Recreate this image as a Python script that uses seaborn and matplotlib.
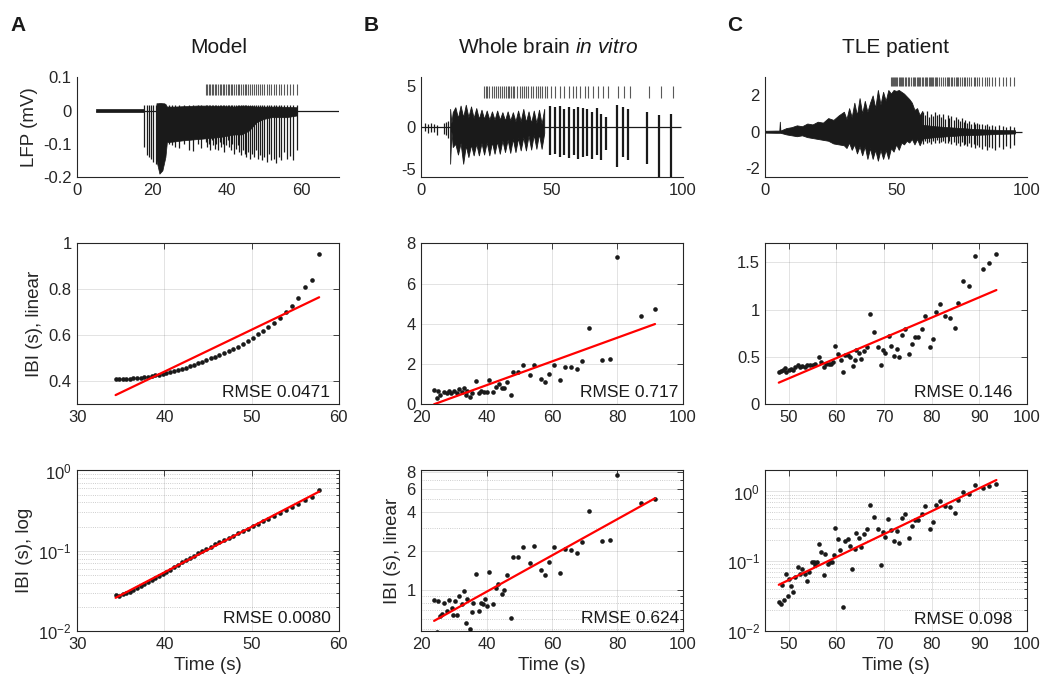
import matplotlib
matplotlib.use("Agg")
import matplotlib.pyplot as plt
import matplotlib.ticker as mticker
import seaborn as sns
import numpy as np

# ---------------- A: model ----------------
a_burst_t = [34.40, 34.81, 35.22, 35.63, 36.04, 36.45, 36.86, 37.27, 37.69, 38.11,
             38.53, 38.95, 39.38, 39.81, 40.24, 40.68, 41.12, 41.56, 42.01, 42.46,
             42.92, 43.38, 43.85, 44.33, 44.82, 45.31, 45.81, 46.32, 46.84, 47.36,
             47.89, 48.43, 48.98, 49.54, 50.12, 50.71, 51.32, 51.94, 52.58, 53.24,
             53.92, 54.62, 55.35, 56.11, 56.92, 57.76]
a_ibi_lin = [0.410, 0.410, 0.410, 0.411, 0.412, 0.413, 0.414, 0.416, 0.418, 0.420,
             0.423, 0.426, 0.429, 0.432, 0.436, 0.440, 0.444, 0.449, 0.454, 0.459,
             0.465, 0.471, 0.478, 0.485, 0.493, 0.501, 0.507, 0.515, 0.523, 0.531,
             0.540, 0.551, 0.563, 0.576, 0.590, 0.605, 0.620, 0.637, 0.655, 0.677,
             0.700, 0.727, 0.763, 0.808, 0.840, 0.952]
a_ibi_log = [0.0282, 0.0275, 0.0285, 0.0296, 0.0310, 0.0326, 0.0343, 0.0361, 0.0382, 0.0405,
             0.0429, 0.0454, 0.0481, 0.0513, 0.0547, 0.0583, 0.0625, 0.0668, 0.0716, 0.0766,
             0.0817, 0.0871, 0.0929, 0.0991, 0.1057, 0.1125, 0.1197, 0.1276, 0.1358, 0.1449,
             0.1545, 0.1652, 0.1766, 0.1888, 0.2023, 0.2168, 0.2328, 0.2506, 0.2704, 0.2931,
             0.3184, 0.3475, 0.3819, 0.4236, 0.4732, 0.5728]
a_last_burst = 58.71
a_rmse = ["RMSE 0.0471", "RMSE 0.0080"]

# LFP trace of the model: quiet band, single discharges and a dense envelope
a_trace_start = 4.9
a_quiet_t = [4.9, 17.8]
a_quiet_hi = [0.005, 0.005]
a_quiet_lo = [-0.005, -0.005]
a_early_t = [18.0, 18.6, 19.2, 19.8, 20.4, 21.0, 24.6, 25.4, 26.1, 27.2, 28.5, 30.0, 31.1, 32.2, 33.2]
a_early_lo = [-0.11, -0.135, -0.14, -0.145, -0.155, -0.16, -0.10, -0.105, -0.11, -0.112,
              -0.10, -0.118, -0.122, -0.10, -0.112]
a_spike_top = 0.018
a_spk_lo = [-0.095, -0.11, -0.10, -0.12, -0.09, -0.105, -0.115, -0.10, -0.12, -0.095,
            -0.11, -0.10, -0.125, -0.105, -0.09, -0.11, -0.12, -0.10, -0.13, -0.115,
            -0.105, -0.125, -0.135, -0.12, -0.13, -0.14, -0.125, -0.145, -0.13, -0.14,
            -0.12, -0.145, -0.135, -0.15, -0.14, -0.155, -0.13, -0.15, -0.145, -0.157,
            -0.14, -0.15, -0.125, -0.145, -0.138, -0.148, -0.12]
a_env_t = [21.2, 21.6, 22.0, 22.4, 22.8, 23.2, 23.6, 24.0, 26.0, 28.0, 30.0, 32.0, 34.0,
           36.0, 38.0, 40.0, 42.0, 44.0, 46.0, 48.0, 50.0, 52.0, 54.0, 56.0, 58.7]
a_env_hi = [0.022, 0.022, 0.023, 0.023, 0.022, 0.022, 0.02, 0.012, 0.012, 0.013, 0.014, 0.015,
            0.015, 0.014, 0.014, 0.013, 0.012, 0.015, 0.014, 0.012, 0.012, 0.012, 0.012, 0.011, 0.01]
a_env_lo = [-0.15, -0.17, -0.19, -0.185, -0.18, -0.16, -0.14, -0.095, -0.093, -0.09, -0.088, -0.086,
            -0.084, -0.082, -0.08, -0.076, -0.072, -0.072, -0.06, -0.035, -0.025, -0.02, -0.02,
            -0.02, -0.015]

# ---------------- B: whole brain in vitro ----------------
b_burst_t = [23.9, 24.8, 25.1, 25.8, 26.9, 27.7, 28.5, 29.2, 30.0, 30.8,
             31.5, 32.3, 33.0, 33.6, 34.1, 34.9, 35.6, 36.6, 37.7, 38.4,
             39.3, 40.0, 40.8, 42.0, 42.7, 43.8, 44.6, 45.3, 46.3, 47.4,
             48.0, 49.5, 51.1, 53.2, 54.6, 56.6, 57.9, 59.1, 60.6, 62.5,
             63.9, 65.7, 67.6, 69.3, 71.4, 75.4, 77.6, 79.8, 87.2, 91.5]
b_ibi_lin = [0.71, 0.33, 0.66, 0.48, 0.63, 0.55, 0.66, 0.55, 0.66, 0.58,
             0.75, 0.63, 0.83, 0.46, 0.66, 0.38, 0.58, 1.16, 0.55, 0.66,
             0.60, 0.63, 1.21, 0.63, 0.88, 0.99, 0.80, 0.83, 1.13, 0.46,
             1.61, 1.61, 1.97, 1.46, 1.97, 1.27, 1.13, 1.49, 1.97, 1.19,
             1.87, 1.87, 1.77, 2.14, 3.81, 2.20, 2.25, 7.30, 4.39, 4.73]
b_t_log = [23.9, 25.1, 24.8, 25.6, 26.2, 26.9, 27.7, 28.5, 29.3, 29.7,
           30.3, 31.0, 31.6, 32.3, 33.0, 33.8, 34.1, 34.9, 35.4, 35.9,
           36.6, 37.7, 38.4, 39.0, 39.5, 40.2, 40.8, 42.0, 42.7, 43.6,
           44.6, 45.3, 46.3, 47.4, 48.0, 49.5, 51.1, 53.2, 54.6, 56.6,
           57.9, 59.1, 60.6, 62.5, 63.9, 65.7, 67.6, 69.3, 71.4, 75.4,
           77.6, 79.8, 87.2, 91.5]
b_ibi_log = [0.84, 0.82, 0.48, 0.63, 0.66, 0.80, 0.69, 0.84, 0.73, 0.64,
             0.82, 0.64, 0.905, 0.78, 0.99, 0.56, 0.85, 0.50, 0.68, 0.79,
             1.32, 0.69, 0.79, 0.78, 0.86, 0.75, 1.37, 0.78, 1.03, 1.12,
             0.94, 1.01, 1.30, 0.61, 1.78, 1.80, 2.15, 1.62, 2.17, 1.42,
             1.30, 1.65, 2.15, 1.35, 2.06, 2.05, 1.94, 2.34, 4.05, 2.39,
             2.44, 7.59, 4.66, 5.03]
b_last_burst = 96.2
b_rmse = ["RMSE 0.717", "RMSE 0.624"]

b_trace_end = 99.5
b_pre_t = [1.5, 2.5, 3.5, 5.0, 6.0, 8.5, 9.3, 10.0]
b_pre_hi = [0.5, 0.4, 0.5, 0.4, 0.3, 0.5, 0.6, 0.8]
b_pre_lo = [-0.5, -0.7, -0.6, -0.6, -0.9, -0.8, -1.0, -1.3]
b_env_t = [11, 11.5, 12, 13, 14, 15, 16, 17, 18, 19, 20, 21, 22, 23, 24, 25, 26, 27, 28, 29,
           30, 31, 32, 33, 34, 35, 36, 37, 38, 39, 40, 41, 42, 43, 44, 45, 46, 47]
b_env_hi = [2.2, 0.5, 1.8, 2.4, 1.1, 2.6, 1.2, 2.7, 1.2, 2.5, 1.1, 2.3, 1.0, 2.1, 1.0, 2.0, 0.9, 1.9,
            0.9, 2.0, 0.9, 1.8, 0.8, 1.9, 0.8, 1.8, 0.7, 2.0, 0.7, 2.2, 0.6, 1.9, 0.5, 2.0, 0.5, 2.1,
            0.4, 2.2]
b_env_lo = [-4.4, -0.5, -2.4, -2.0, -3.3, -1.9, -4.4, -2.2, -3.6, -2.1, -3.4, -2.0, -3.4, -1.9, -3.3,
            -1.8, -3.4, -1.8, -3.2, -1.7, -3.2, -1.6, -3.0, -1.5, -3.1, -1.4, -3.0, -1.3, -2.8, -1.2,
            -2.8, -1.0, -2.7, -0.9, -2.6, -0.8, -2.6, -0.7]
b_spk_t = [49.2, 51.1, 53.0, 54.6, 56.4, 58.3, 60.0, 61.9, 63.5, 65.3, 67.0, 68.9, 70.8, 75.0, 77.1,
           79.1, 86.4, 90.9, 95.6]
b_spk_hi = [2.5, 2.4, 2.5, 2.2, 2.4, 2.2, 2.4, 2.3, 2.2, 1.8, 2.3, 1.6, 1.2, 2.7, 2.4, 2.2, 1.8, 1.5, 1.6]
b_spk_lo = [-3.4, -3.2, -3.6, -3.4, -3.7, -3.4, -3.8, -3.6, -3.5, -3.8, -3.4, -4.0, -2.8, -4.8, -3.6,
            -4.0, -4.4, -6.0, -6.0]

# ---------------- C: TLE patient ----------------
c_burst_t = [47.9, 48.4, 48.8, 49.3, 49.5, 50.0, 50.5, 50.9, 51.4, 51.9,
             52.3, 52.8, 53.3, 53.8, 54.5, 55.0, 55.6, 56.3, 56.8, 57.3,
             57.8, 58.4, 58.9, 59.3, 59.8, 60.3, 61.0, 61.4, 61.9, 62.4,
             62.9, 63.4, 63.8, 64.2, 64.8, 65.2, 65.7, 66.4, 67.0, 67.9,
             68.7, 69.3, 69.7, 70.3, 71.0, 71.5, 72.1, 72.7, 73.2, 73.8,
             74.5, 75.2, 75.8, 76.4, 77.2, 77.9, 78.7, 79.6, 80.2, 81.0,
             81.8, 82.9, 83.9, 84.8, 85.5, 86.6, 87.9, 89.2, 90.8, 92.1, 93.6]
c_ibi_lin = [0.345, 0.35, 0.36, 0.38, 0.345, 0.36, 0.37, 0.36, 0.39, 0.41,
             0.39, 0.40, 0.39, 0.41, 0.42, 0.42, 0.43, 0.50, 0.45, 0.39,
             0.43, 0.43, 0.43, 0.45, 0.62, 0.53, 0.47, 0.345, 0.52, 0.52,
             0.50, 0.40, 0.47, 0.57, 0.54, 0.48, 0.56, 0.61, 0.95, 0.76,
             0.61, 0.41, 0.57, 0.54, 0.72, 0.62, 0.51, 0.58, 0.50, 0.73,
             0.80, 0.53, 0.64, 0.71, 0.71, 0.80, 0.93, 0.61, 0.69, 0.97,
             1.06, 0.93, 0.91, 0.81, 1.07, 1.30, 1.25, 1.57, 1.43, 1.49, 1.59]
c_t_log = [47.9, 48.3, 48.6, 49.0, 49.4, 49.8, 50.1, 50.5, 50.8, 51.2,
           51.9, 52.3, 52.8, 53.3, 53.8, 54.2, 54.8, 55.2, 55.6, 55.9,
           56.4, 56.8, 57.3, 57.7, 58.2, 58.7, 59.1, 59.4, 59.8, 60.3,
           60.8, 61.4, 61.8, 62.4, 62.8, 63.3, 63.8, 64.2, 64.8, 65.2,
           65.7, 66.4, 67.0, 67.9, 68.7, 69.3, 69.7, 70.3, 70.8, 71.5,
           72.1, 72.7, 73.2, 73.8, 74.5, 75.2, 75.8, 76.4, 77.2, 77.9,
           78.7, 79.6, 80.2, 81.0, 81.8, 82.9, 83.9, 84.8, 85.5, 86.6,
           87.9, 89.2, 90.8, 92.1, 93.6]
c_ibi_log = [0.026, 0.0245, 0.046, 0.028, 0.066, 0.032, 0.055, 0.044, 0.036, 0.060,
             0.084, 0.066, 0.077, 0.066, 0.052, 0.069, 0.099, 0.099, 0.087, 0.099,
             0.175, 0.135, 0.063, 0.126, 0.091, 0.099, 0.097, 0.123, 0.30, 0.21,
             0.146, 0.0223, 0.198, 0.21, 0.166, 0.077, 0.15, 0.258, 0.218, 0.162,
             0.244, 0.288, 0.63, 0.437, 0.288, 0.087, 0.26, 0.22, 0.40, 0.28,
             0.198, 0.27, 0.185, 0.41, 0.48, 0.218, 0.315, 0.39, 0.39, 0.48,
             0.61, 0.288, 0.37, 0.64, 0.74, 0.61, 0.60, 0.49, 0.76, 0.97,
             0.93, 1.25, 1.12, 1.18, 1.29]
c_last_burst = 95.2
c_rmse = ["RMSE 0.146", "RMSE 0.098"]

c_trace_end = 98.0
c_env_t = [0, 4, 5.3, 5.5, 5.7, 8, 10, 12, 14, 16, 18, 20, 22, 24, 26, 28, 30, 31, 32, 33,
           34, 35, 36, 37, 38, 39, 40, 41, 42, 43, 44, 45, 46, 47, 48, 49, 50, 51, 52, 53,
           54, 55, 56, 57, 58, 59, 60]
c_env_hi = [0.05, 0.06, 0.06, 0.55, 0.06, 0.2, 0.25, 0.35, 0.3, 0.45, 0.4, 0.55, 0.5, 0.75, 0.65,
            0.9, 1.1, 0.7, 1.3, 0.8, 1.6, 0.9, 1.85, 1.0, 1.7, 1.1, 1.6, 2.0, 1.3, 2.3, 1.5, 2.2,
            1.7, 2.3, 2.1, 2.3, 2.25, 2.3, 2.2, 2.1, 1.95, 1.8, 1.6, 1.2, 1.3, 0.9, 1.15]
c_env_lo = [-0.05, -0.06, -0.06, -0.06, -0.06, -0.15, -0.2, -0.25, -0.2, -0.3, -0.35, -0.4, -0.45,
            -0.5, -0.65, -0.7, -0.75, -0.9, -0.6, -1.0, -0.7, -1.2, -0.8, -1.3, -0.8, -1.5, -0.9,
            -1.5, -1.0, -1.6, -1.0, -1.5, -1.0, -1.5, -0.9, -1.1, -0.7, -1.0, -0.6, -0.7, -0.5,
            -0.6, -0.4, -0.7, -0.4, -0.75, -0.4]
c_core_t = [59, 65, 70, 75, 80, 85, 90, 95.5]
c_core_hi = [0.4, 0.3, 0.25, 0.2, 0.15, 0.12, 0.1, 0.08]
c_core_lo = [-0.4, -0.3, -0.25, -0.2, -0.18, -0.15, -0.12, -0.1]
c_spk_t = [60.3, 61.0, 61.9, 62.4, 63.4, 64.2, 64.8, 65.7, 66.4, 67.0,
           67.9, 68.7, 69.7, 70.3, 71.0, 72.1, 72.7, 73.8, 74.5, 75.2,
           75.8, 76.4, 77.2, 77.9, 78.7, 79.6, 80.2, 81.0, 81.8, 82.9,
           83.9, 84.8, 85.5, 86.6, 87.9, 89.2, 90.8, 92.1, 93.6, 95.2]
c_spk_hi = [1.1, 0.9, 1.15, 0.8, 1.0, 0.85, 1.1, 0.9, 0.95, 0.8,
            1.0, 0.7, 0.9, 0.75, 0.85, 0.65, 0.8, 0.7, 0.6, 0.75,
            0.55, 0.65, 0.5, 0.6, 0.45, 0.55, 0.45, 0.5, 0.4, 0.45,
            0.35, 0.45, 0.3, 0.35, 0.3, 0.35, 0.3, 0.25, 0.3, 0.25]
c_spk_lo = [-0.7, -0.5, -0.65, -0.55, -0.7, -0.5, -0.6, -0.45, -0.65, -0.55,
            -0.5, -0.65, -0.6, -0.5, -0.7, -0.55, -0.75, -0.6, -0.8, -0.55,
            -0.75, -0.7, -0.8, -0.6, -0.85, -0.7, -0.9, -0.75, -0.85, -0.95,
            -0.8, -1.0, -0.85, -0.9, -1.0, -0.85, -0.95, -0.8, -0.9, -0.75]

titles = ["Model", r"Whole brain $\mathit{in\ vitro}$", "TLE patient"]
panel_letters = ["A", "B", "C"]

# ---------------- style ----------------
sns.set_theme(style="white")
plt.rcParams['font.family'] = ['Liberation Sans', 'DejaVu Sans']
plt.rcParams['mathtext.fontset'] = 'custom'
plt.rcParams['mathtext.rm'] = 'Liberation Sans'
plt.rcParams['mathtext.it'] = 'Liberation Sans:italic'
plt.rcParams['mathtext.bf'] = 'Liberation Sans:bold'
plt.rcParams['axes.unicode_minus'] = False

AX_COL = '0.15'
TICK_FS = 12
LABEL_FS = 13.5
plain = mticker.FuncFormatter(lambda v, p: '{:g}'.format(v))

fig = plt.figure(figsize=(10.44, 6.8), dpi=100)
col_x = [0.0740, 0.4036, 0.7332]
col_w = 0.2504
row_y = [0.7397, 0.4054, 0.0721]
row_h = [0.1466, 0.2368, 0.2360]
axs = [[fig.add_axes([col_x[c], row_y[r], col_w, row_h[r]]) for c in range(3)] for r in range(3)]


def style_axes(ax, box=True):
    ax.spines['top'].set_visible(box)
    ax.spines['right'].set_visible(box)
    for sp in ax.spines.values():
        sp.set_color(AX_COL)
        sp.set_linewidth(0.8)
    ax.tick_params(which='both', direction='in', colors=AX_COL, labelsize=TICK_FS,
                   top=box, right=box, length=4, width=0.6, pad=4)
    ax.tick_params(which='minor', length=2)


def add_grid(ax, minor=False):
    ax.grid(True, which='major', color='0.15', alpha=0.15, lw=0.6, ls='-')
    if minor:
        ax.grid(True, which='minor', axis='y', color='0.15', alpha=0.3, lw=0.6, ls=':')
    ax.set_axisbelow(True)


def ibi_panel(ax, t, ibi, rmse, logy, rmse_pos):
    sns.scatterplot(x=t, y=ibi, ax=ax, color='k', s=11, linewidth=0, zorder=3)
    x = np.array(t)
    xs = np.array([x.min(), x.max()])
    if logy:
        k, b = np.polyfit(x, np.log10(ibi), 1)
        ax.plot(xs, 10 ** (k * xs + b), color='red', lw=1.6, zorder=4)
        ax.set_yscale('log')
    else:
        k, b = np.polyfit(x, ibi, 1)
        ax.plot(xs, k * xs + b, color='red', lw=1.6, zorder=4)
    ax.text(rmse_pos[0], rmse_pos[1], rmse, transform=ax.transAxes, ha='right', va='baseline',
            fontsize=12.5, color='k', zorder=5)


def raster(ax, times, band):
    ax.vlines(times, band[0], band[1], color='0.35', lw=0.8)


# ---------------- row 1: LFP traces ----------------
ax = axs[0][0]
ax.hlines(0, a_trace_start, 70, color='k', lw=0.9)
ax.fill_between(a_quiet_t, a_quiet_lo, a_quiet_hi, color='k', lw=0.5)
ax.vlines(a_early_t, a_early_lo, a_spike_top, color='k', lw=0.9)
ax.fill_between(a_env_t, a_env_lo, a_env_hi, color='k', lw=0.5)
ax.vlines(a_burst_t + [a_last_burst], a_spk_lo, a_spike_top, color='k', lw=0.9)
raster(ax, a_burst_t + [a_last_burst], (0.047, 0.08))
ax.set_xlim(0, 70)
ax.set_ylim(-0.2, 0.1)
ax.set_xticks([0, 20, 40, 60])
ax.set_yticks([-0.2, -0.1, 0, 0.1])
ax.set_ylabel('LFP (mV)', fontsize=LABEL_FS)

ax = axs[0][1]
ax.hlines(0, 0, b_trace_end, color='k', lw=0.9)
ax.vlines(b_pre_t, b_pre_lo, b_pre_hi, color='k', lw=0.9)
ax.fill_between(b_env_t, b_env_lo, b_env_hi, color='k', lw=0.6)
ax.vlines(b_spk_t, b_spk_lo, b_spk_hi, color='k', lw=1.6)
raster(ax, b_burst_t + [b_last_burst], (3.5, 4.9))
ax.set_xlim(0, 100)
ax.set_ylim(-6, 6)
ax.set_xticks([0, 50, 100])
ax.set_yticks([-5, 0, 5])

ax = axs[0][2]
ax.hlines(0, 0, c_trace_end, color='k', lw=0.9)
ax.fill_between(c_env_t, c_env_lo, c_env_hi, color='k', lw=0.6)
ax.fill_between(c_core_t, c_core_lo, c_core_hi, color='k', lw=0.5)
ax.vlines(c_spk_t, c_spk_lo, c_spk_hi, color='k', lw=0.9)
raster(ax, c_burst_t + [c_last_burst], (2.5, 3.0))
ax.set_xlim(0, 100)
ax.set_ylim(-2.5, 3)
ax.set_xticks([0, 50, 100])
ax.set_yticks([-2, 0, 2])

for ax in axs[0]:
    style_axes(ax, box=False)
    ax.xaxis.set_major_formatter(plain)
    ax.yaxis.set_major_formatter(plain)

# ---------------- row 2: IBI, linear ----------------
ax = axs[1][0]
ibi_panel(ax, a_burst_t, a_ibi_lin, a_rmse[0], False, (0.966, 0.047))
ax.set_xlim(30, 60)
ax.set_ylim(0.3, 1.0)
ax.set_xticks([30, 40, 50, 60])
ax.set_yticks([0.4, 0.6, 0.8, 1.0])
ax.set_ylabel('IBI (s), linear', fontsize=LABEL_FS)

ax = axs[1][1]
ibi_panel(ax, b_burst_t, b_ibi_lin, b_rmse[0], False, (0.985, 0.043))
ax.set_xlim(20, 100)
ax.set_ylim(0, 8)
ax.set_xticks([20, 40, 60, 80, 100])
ax.set_yticks([0, 2, 4, 6, 8])

ax = axs[1][2]
ibi_panel(ax, c_burst_t, c_ibi_lin, c_rmse[0], False, (0.943, 0.047))
ax.set_xlim(45.1, 100)
ax.set_ylim(0, 1.7)
ax.set_xticks([50, 60, 70, 80, 90, 100])
ax.set_yticks([0, 0.5, 1, 1.5])

for ax in axs[1]:
    style_axes(ax, box=True)
    add_grid(ax)
    ax.xaxis.set_major_formatter(plain)
    ax.yaxis.set_major_formatter(plain)

# ---------------- row 3: IBI, log ----------------
ax = axs[2][0]
ibi_panel(ax, a_burst_t, a_ibi_log, a_rmse[1], True, (0.972, 0.052))
ax.set_xlim(30, 60)
ax.set_ylim(1e-2, 1)
ax.set_xticks([30, 40, 50, 60])
ax.set_ylabel('IBI (s), log', fontsize=LABEL_FS)

ax = axs[2][1]
ibi_panel(ax, b_t_log, b_ibi_log, b_rmse[1], True, (0.985, 0.048))
ax.set_xlim(20, 100)
ax.set_ylim(0.486, 8.28)
ax.set_xticks([20, 40, 60, 80, 100])
ax.set_ylabel('IBI (s), linear', fontsize=LABEL_FS)

ax = axs[2][2]
ibi_panel(ax, c_t_log, c_ibi_log, c_rmse[1], True, (0.943, 0.044))
ax.set_xlim(45.1, 100)
ax.set_ylim(1e-2, 2.0)
ax.set_xticks([50, 60, 70, 80, 90, 100])

for i, ax in enumerate(axs[2]):
    style_axes(ax, box=True)
    ax.xaxis.set_major_formatter(plain)
    if i == 1:
        ax.yaxis.set_major_locator(mticker.FixedLocator([1, 2, 4, 6, 8]))
        ax.yaxis.set_major_formatter(plain)
        ax.yaxis.set_minor_locator(mticker.FixedLocator([0.5, 0.6, 0.7, 0.8, 0.9, 3, 5, 7]))
    else:
        ax.yaxis.set_major_locator(mticker.FixedLocator([1e-2, 1e-1, 1]))
        ax.yaxis.set_major_formatter(mticker.LogFormatterSciNotation())
        ax.yaxis.set_minor_locator(mticker.LogLocator(base=10, subs=np.arange(2, 10)))
    ax.yaxis.set_minor_formatter(mticker.NullFormatter())
    add_grid(ax, minor=True)
    ax.set_xlabel('Time (s)', fontsize=LABEL_FS)

# ---------------- titles and panel letters ----------------
title_x = [219 / 1044, 548 / 1044, 896 / 1044]
letter_x = [10 / 1044, 364 / 1044, 727 / 1044]
for i in range(3):
    fig.text(title_x[i], 1 - 53 / 680, titles[i], ha='center', va='baseline', fontsize=15, color='k')
    fig.text(letter_x[i], 1 - 31 / 680, panel_letters[i], ha='left', va='baseline', fontsize=15,
             fontweight='bold', color='k')

fig.savefig('out.png', dpi=100)
